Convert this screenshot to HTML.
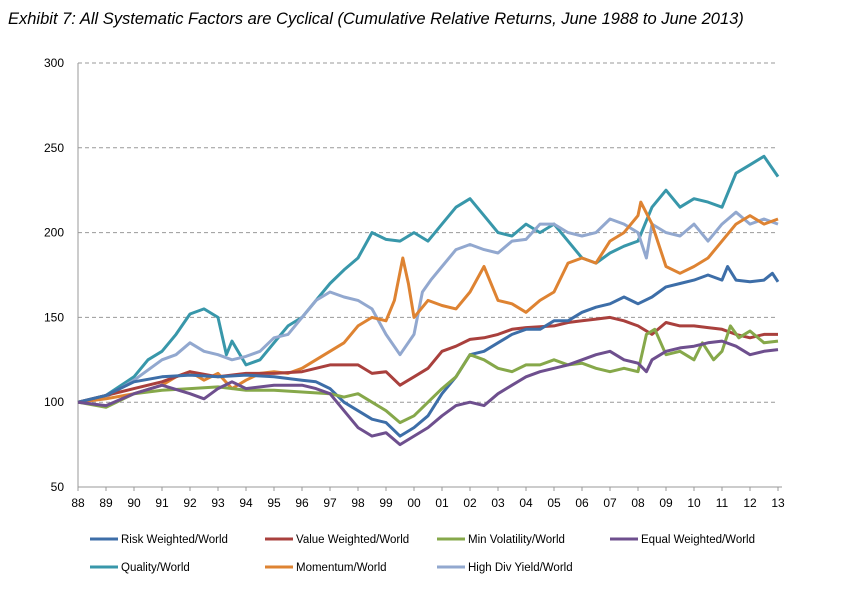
<!DOCTYPE html>
<html><head><meta charset="utf-8"><style>
body{margin:0;background:#fff;width:841px;height:585px;overflow:hidden;font-family:"Liberation Sans",sans-serif}
</style></head><body>
<svg width="841" height="585">
<text x="8" y="24" font-style="italic" font-size="16.5" fill="#000">Exhibit 7: All Systematic Factors are Cyclical (Cumulative Relative Returns, June 1988 to June 2013)</text>
<g id="grid"></g><g id="axes"></g><g id="series"></g><g id="legend"></g>
</svg>
<script>
const yTicks=[50,100,150,200,250,300];
const xTickLabels=["88","89","90","91","92","93","94","95","96","97","98","99","00","01","02","03","04","05","06","07","08","09","10","11","12","13"];
const seriesNames=["Risk Weighted/World","Value Weighted/World","Min Volatility/World","Equal Weighted/World","Quality/World","Momentum/World","High Div Yield/World"];
const seriesColors=["#3d6ea8","#a9403d","#86a84a","#6e4f8e","#3897aa","#de8332","#92a8cf"];
const riskT=[0,1,2,3,4,5,6,7,8,8.5,9,9.5,10,10.5,11,11.5,12,12.5,13,13.5,14,14.5,15,15.5,16,16.5,17,17.5,18,18.5,19,19.5,20,20.5,21,21.5,22,22.5,23,23.2,23.5,24,24.5,24.8,25];
const riskV=[100,104,112,115,116,115,116,115,113,112,108,100,95,90,88,80,85,92,105,115,128,130,135,140,143,143,148,148,153,156,158,162,158,162,168,170,172,175,172,180,172,171,172,176,171];
const valueT=[0,1,2,3,4,5,6,7,8,8.5,9,10,10.5,11,11.5,12,12.5,13,13.5,14,14.5,15,15.5,16,17,17.5,18,18.5,19,19.5,20,20.5,21,21.5,22,22.5,23,23.5,24,24.5,25];
const valueV=[100,104,108,112,118,115,117,117,118,120,122,122,117,118,110,115,120,130,133,137,138,140,143,144,145,147,148,149,150,148,145,140,147,145,145,144,143,140,138,140,140];
const minvolT=[0,1,2,3,4,5,6,7,8,9,9.5,10,10.5,11,11.5,12,12.5,13,13.5,14,14.5,15,15.5,16,16.5,17,17.5,18,18.5,19,19.5,20,20.3,20.6,21,21.5,22,22.3,22.7,23,23.3,23.6,24,24.5,25];
const minvolV=[100,97,105,107,108,109,107,107,106,105,103,105,100,95,88,92,100,108,115,128,125,120,118,122,122,125,122,123,120,118,120,118,140,143,128,130,125,135,125,130,145,138,142,135,136];
const equalT=[0,1,2,3,4,4.5,5,5.5,6,7,8,8.5,9,9.5,10,10.5,11,11.5,12,12.5,13,13.5,14,14.5,15,15.5,16,16.5,17,17.5,18,18.5,19,19.5,20,20.3,20.5,21,21.5,22,22.5,23,23.5,24,24.5,25];
const equalV=[100,98,105,110,105,102,108,112,108,110,110,108,105,95,85,80,82,75,80,85,92,98,100,98,105,110,115,118,120,122,125,128,130,125,123,118,125,130,132,133,135,136,133,128,130,131];
const qualityT=[0,1,2,2.5,3,3.5,4,4.5,5,5.3,5.5,6,6.5,7,7.5,8,8.5,9,9.5,10,10.5,11,11.5,12,12.5,13,13.5,14,14.5,15,15.5,16,16.5,17,17.5,18,18.5,19,19.5,20,20.5,21,21.5,22,22.5,23,23.5,24,24.5,25];
const qualityV=[100,104,115,125,130,140,152,155,150,128,136,122,125,135,145,150,160,170,178,185,200,196,195,200,195,205,215,220,210,200,198,205,200,205,195,185,182,188,192,195,215,225,215,220,218,215,235,240,245,233];
const momT=[0,1,2,3,3.5,4,4.5,5,5.5,6,6.5,7,7.5,8,8.5,9,9.5,10,10.5,11,11.3,11.6,11.8,12,12.5,13,13.5,14,14.5,15,15.5,16,16.5,17,17.5,18,18.5,19,19.5,20,20.1,20.5,21,21.5,22,22.5,23,23.5,24,24.5,25];
const momV=[100,102,105,110,115,118,113,117,108,113,117,118,117,120,125,130,135,145,150,148,160,185,170,150,160,157,155,165,180,160,158,153,160,165,182,185,182,195,200,210,218,205,180,176,180,185,195,205,210,205,208];
const hdyT=[0,1,2,3,3.5,4,4.5,5,5.5,6,6.5,7,7.5,8,8.5,9,9.5,10,10.5,11,11.5,12,12.3,12.6,13,13.5,14,14.5,15,15.5,16,16.5,17,17.5,18,18.5,19,19.5,20,20.3,20.5,21,21.5,22,22.5,23,23.5,24,24.5,25];
const hdyV=[100,103,113,125,128,135,130,128,125,127,130,138,140,150,160,165,162,160,155,140,128,140,165,172,180,190,193,190,188,195,196,205,205,200,198,200,208,205,200,185,205,200,198,205,195,205,212,205,208,205];
const X0=78,X1=778,Y0=487,Y1=63;
const sx=t=>X0+(X1-X0)*t/25;
const sy=v=>Y0-(v-50)*(Y0-Y1)/250;
const NS="http://www.w3.org/2000/svg";
function mk(tag,attrs,parent){const e=document.createElementNS(NS,tag);for(const k in attrs)e.setAttribute(k,attrs[k]);parent.appendChild(e);return e;}
const grid=document.getElementById('grid'),axes=document.getElementById('axes'),ser=document.getElementById('series'),leg=document.getElementById('legend');
yTicks.forEach(v=>{
  if(v>50){const l=mk('line',{x1:X0,x2:X1,y1:sy(v),y2:sy(v),stroke:'#999','stroke-dasharray':'4,3','stroke-width':1},grid);
  
  }
  const t=mk('text',{x:X0-14,y:sy(v)+4,'text-anchor':'end','font-size':12,fill:'#000'},axes);t.textContent=v;
  
  
});
const ax=mk('line',{x1:X0,x2:X0,y1:Y1,y2:Y0,stroke:'#999','stroke-width':1},axes);


const bx=mk('line',{x1:X0,x2:X1+4,y1:Y0,y2:Y0,stroke:'#999','stroke-width':1},axes);


xTickLabels.forEach((s,i)=>{
  mk('line',{x1:sx(i),x2:sx(i),y1:Y0,y2:Y0+4,stroke:'#999'},axes);
  const t=mk('text',{x:sx(i),y:Y0+20,'text-anchor':'middle','font-size':12,fill:'#000'},axes);t.textContent=s;
  
  
});
const allT=[riskT,valueT,minvolT,equalT,qualityT,momT,hdyT],allV=[riskV,valueV,minvolV,equalV,qualityV,momV,hdyV];
const order=[4,6,5,1,0,2,3];
order.forEach(i=>{
  const d=allT[i].map((t,j)=>(j?'L':'M')+sx(t).toFixed(1)+','+sy(allV[i][j]).toFixed(1)).join('');
  const p=mk('path',{d:d,fill:'none',stroke:seriesColors[i],'stroke-width':3,'stroke-linejoin':'round'},ser);
  
  
});
const lx=[90,265,437,610],ly=[539,567];
seriesNames.forEach((n,i)=>{
  const x=lx[i%4],y=ly[Math.floor(i/4)];
  const g=mk('g',{},leg);
  
  
  mk('line',{x1:x,x2:x+28,y1:y,y2:y,stroke:seriesColors[i],'stroke-width':3},g);
  const t=mk('text',{x:x+31,y:y+4,'font-size':11.5,fill:'#000'},g);t.textContent=n;
});
</script>
</body></html>
